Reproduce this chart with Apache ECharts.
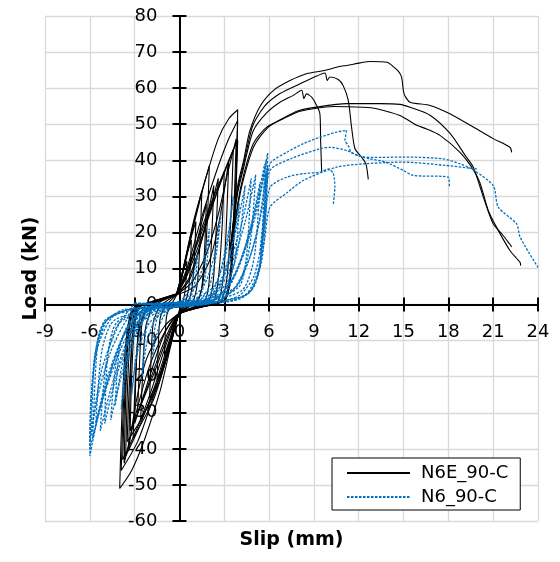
<!DOCTYPE html>
<html>
<head>
<meta charset="utf-8">
<script src="https://cdn.jsdelivr.net/npm/echarts@6/dist/echarts.min.js"></script>
<style>html,body{margin:0;padding:0;background:#fff}#c{width:560px;height:562px}</style>
</head>
<body>
<div id="c"></div>
<script>
// ---- axes ----
const xMin = -9, xMax = 24, xStep = 3;
const yMin = -60, yMax = 80, yStep = 10;
const xTitle = 'Slip (mm)';
const yTitle = 'Load (kN)';
const seriesNames = ['N6E_90-C', 'N6_90-C'];

// ---- N6E_90-C (black) cyclic loops ----
const n6eCycle01 = [[-0.2,2.5],[0.0,5],[0.2,8.5],[0.5,12],[0.45,7],[0.35,3],[0.2,0.5],[0.0,-1.5],[-0.2,-4.5],[-0.5,-8.5],[-1.0,-14],[-0.95,-8],[-0.85,-3],[-0.6,-0.5],[-0.2,2.5]];
const n6eCycle02 = [[-0.2,2.6],[0.1,6.5],[0.4,12.5],[0.8,18],[0.72,10],[0.6,4],[0.4,0.8],[0.0,-2.0],[-0.3,-6.5],[-0.8,-14],[-1.5,-21],[-1.42,-12],[-1.3,-4],[-0.9,-0.3],[-0.2,2.6]];
const n6eCycle03 = [[-0.2,2.7],[0.15,7.5],[0.6,16],[1.1,23],[1.0,13],[0.85,5],[0.6,1],[0.0,-2.3],[-0.4,-8],[-1.1,-18],[-2.0,-26],[-1.9,-15],[-1.75,-5],[-1.3,-0.5],[-0.2,2.7]];
const n6eCycle04 = [[-0.2,2.8],[0.2,9],[0.8,20],[1.5,31.5],[1.38,18],[1.2,6],[0.9,1],[0.0,-2.4],[-0.5,-9.5],[-1.4,-22],[-2.6,-32],[-2.45,-18],[-2.25,-6],[-1.7,-0.4],[-0.2,2.8]];
const n6eCycle05 = [[-0.2,2.8],[0.25,10],[1.0,24],[2.0,38.5],[1.85,22],[1.6,7],[1.2,1.2],[0.0,-2.5],[-0.6,-11],[-1.7,-26],[-3.1,-37],[-2.95,-21],[-2.7,-7],[-2.1,-0.5],[-0.2,2.8]];
const n6eCycle06 = [[-0.2,2.9],[0.4,8],[1.3,18],[2.3,29],[3.2,39],[3.9,45.5],[3.75,28],[3.5,10],[3.1,1.5],[2.5,0.3],[0.0,-2.6],[-0.6,-9],[-1.6,-22],[-2.7,-34],[-3.6,-42],[-3.5,-26],[-3.3,-9],[-2.9,-1],[-2.4,-0.2],[-0.2,2.9]];
const n6eCycle07 = [[-0.2,2.9],[0.5,10],[1.4,23],[2.4,36],[3.2,45],[3.9,51],[3.75,31],[3.5,12],[3.15,2],[2.6,0.5],[0.0,-2.6],[-0.7,-11],[-1.7,-25],[-2.8,-38],[-3.9,-46],[-3.75,-28],[-3.5,-10],[-3.1,-1.2],[-2.6,-0.2],[-0.2,2.9]];
const n6eCycle08 = [[-0.2,3.0],[0.3,10],[0.9,21],[1.7,34],[2.6,46],[3.3,51.5],[3.9,54],[3.78,33],[3.55,13],[3.2,2.3],[2.7,0.6],[0.0,-2.6],[-0.5,-10],[-1.3,-24],[-2.3,-37],[-3.2,-46],[-4.0,-51],[-3.85,-30],[-3.6,-11],[-3.2,-1.5],[-2.65,-0.3],[-0.2,3.0]];
const n6eCycle09 = [[-0.2,2.8],[0.8,6],[1.8,14],[2.6,25],[3.2,36],[3.8,46],[3.65,27],[3.4,9],[3.0,1.2],[2.4,0.2],[0.0,-2.5],[-0.9,-7],[-2.0,-17],[-2.9,-30],[-3.7,-44],[-3.6,-26],[-3.4,-8],[-3.0,-0.8],[-2.4,0],[-0.2,2.8]];
const n6eCycle10 = [[-0.2,2.7],[1.0,5],[2.0,12],[2.7,24],[3.3,40],[3.15,23],[2.95,8],[2.6,1],[2.0,0],[0.0,-2.5],[-1.0,-6],[-2.2,-15],[-2.9,-27],[-3.4,-40],[-3.3,-24],[-3.15,-8],[-2.8,-0.8],[-2.2,0],[-0.2,2.7]];
const n6eCycle11 = [[-0.2,2.6],[0.6,7],[1.5,18],[2.1,27],[2.6,35],[2.45,20],[2.25,6],[1.9,0.8],[0.0,-2.4],[-0.8,-8],[-1.8,-19],[-2.6,-28],[-3.3,-35],[-3.2,-20],[-3.0,-6],[-2.6,-0.5],[-0.2,2.6]];
const n6eCycle12 = [[-0.2,2.6],[0.5,8],[1.2,18],[1.8,28],[1.68,15],[1.5,5],[1.2,0.8],[0.0,-2.3],[-0.7,-8],[-1.7,-19],[-2.8,-30],[-2.68,-17],[-2.5,-5],[-2.0,-0.4],[-0.2,2.6]];
const n6eCycle13 = [[-0.2,2.8],[0.6,9],[1.6,20],[2.6,32],[3.6,43],[3.45,25],[3.2,8],[2.8,1],[2.2,0.1],[0.0,-2.5],[-0.8,-10],[-1.9,-24],[-2.9,-35],[-3.8,-43],[-3.65,-25],[-3.4,-8],[-3.0,-1],[-2.4,0],[-0.2,2.8]];
const n6eCycle14 = [[-0.2,2.7],[0.4,8],[1.3,19],[2.2,29],[3.0,37],[2.85,21],[2.6,7],[2.3,1],[1.7,0],[0.0,-2.4],[-0.5,-9],[-1.5,-22],[-2.6,-32],[-3.5,-38],[-3.35,-22],[-3.1,-7],[-2.7,-0.6],[-2.1,0.1],[-0.2,2.7]];
const n6eCycle15 = [[-0.2,2.6],[0.7,7],[1.5,18],[2.3,33],[2.15,18],[1.95,5],[1.6,0.5],[0.0,-2.3],[-1.0,-8],[-2.0,-20],[-3.0,-33],[-2.9,-18],[-2.7,-5],[-2.3,-0.3],[-0.2,2.6]];

// ---- N6E_90-C (black) post-peak curves ----
const n6eTail1 = [[3.4,15],[3.9,33],[4.3,40],[4.7,48],[5.4,55],[6.3,59.4],[7.4,62.1],[8.5,64],[9.7,64.9],[10.7,66],[11.2,66.3],[12.1,67],[12.75,67.4],[13.9,67.2],[14.3,66],[14.65,64.7],[14.87,63],[15.0,59],[15.1,57.8],[15.43,56.1],[16.77,55.2],[18.1,52.9],[19.67,49.2],[21.0,46],[22.12,43.6],[22.24,42.2]];
const n6eTail2 = [[3.4,15],[3.9,32],[4.3,39],[4.9,49.5],[5.7,55],[6.73,58.5],[8.07,61.2],[9.0,63],[9.74,64.2],[9.89,62.1],[10.07,63.1],[10.63,62.4],[10.96,60.7],[11.3,56.6],[11.52,49.2],[11.75,43.2],[12.19,40.9],[12.48,39],[12.64,34.7]];
const n6eTail3 = [[3.4,15],[3.9,31],[4.3,38],[4.92,48],[5.8,53],[6.73,56.1],[7.62,58],[8.18,59.4],[8.33,57.1],[8.51,58.4],[8.85,57.5],[9.18,55.2],[9.4,52.9],[9.45,45.5],[9.52,36.7]];
const n6eTail4 = [[3.4,12],[3.9,28],[4.3,36],[4.94,44.6],[5.84,49.2],[6.95,51.5],[8.0,53.5],[8.96,54.3],[10.3,54.9],[12.3,54.7],[13.2,54.3],[14.76,52.4],[15.88,49.7],[16.55,48.7],[17.44,46.9],[18.78,42.2],[19.56,38.1],[20.1,33.9],[20.67,26.1],[21.23,21.4],[22.12,15],[22.8,11.7],[22.84,10.8]];
const n6eTail5 = [[3.4,12],[3.9,27],[4.3,35],[5.0,44],[5.9,49],[7.0,51.8],[8.0,53.8],[8.96,54.6],[11.19,55.7],[13.42,55.7],[14.76,55.5],[15.43,54.7],[16.77,52.5],[18.1,47.5],[19.2,40.9],[19.67,38.1],[20.34,29.8],[21.0,22.4],[21.6,19.5],[22.1,16.8],[22.24,16]];

// ---- N6_90-C (blue) cyclic loops ----
const n6Cycle01 = [[-0.8,0.2],[0.0,0.8],[0.5,3],[0.9,7.5],[1.2,14],[1.1,8],[0.8,2.5],[0.3,0.3],[-0.5,-0.8],[-1.1,-3.5],[-1.5,-8],[-1.8,-14],[-1.7,-8],[-1.4,-2.5],[-0.8,0.2]];
const n6Cycle02 = [[-1.0,0.2],[0.2,1],[1.0,4.5],[1.6,11],[2.0,21],[1.85,12],[1.5,3.5],[0.8,0.3],[-0.5,-1],[-1.6,-4],[-2.2,-11],[-2.5,-20],[-2.35,-11],[-2.0,-3],[-1.0,0.2]];
const n6Cycle03 = [[-1.2,0.2],[0.5,1.2],[1.6,5],[2.3,13],[2.8,26],[2.5,15],[2.0,5],[1.2,0.6],[-0.6,-1.1],[-2.0,-5],[-2.8,-13],[-3.2,-25],[-2.9,-14],[-2.4,-4],[-1.2,0.2]];
const n6Cycle04 = [[-1.5,0.2],[0.8,1.3],[2.3,5],[3.1,14],[3.6,30],[3.2,18],[2.5,6],[1.5,0.8],[-0.8,-1.2],[-2.6,-5],[-3.5,-14],[-3.9,-29],[-3.5,-17],[-2.8,-5],[-1.5,0.2]];
const n6Cycle05 = [[-2.0,0.1],[1.0,1.2],[3.0,5],[3.9,15],[4.4,33],[3.8,21],[2.9,8],[1.9,1.5],[0.8,0],[-1.0,-1.2],[-3.3,-5],[-4.2,-15],[-4.6,-32],[-3.9,-20],[-2.9,-8],[-1.9,-1.5],[-1.0,0.1]];
const n6Cycle06 = [[-2.4,0.1],[1.2,1.0],[3.8,5],[4.7,16],[5.1,36],[4.4,23],[3.3,9],[2.2,2],[1.0,0.2],[-1.2,-1.0],[-4.0,-5],[-4.9,-16],[-5.3,-35],[-4.5,-22],[-3.4,-9],[-2.3,-2],[-1.2,0]];
const n6Cycle07 = [[-3.0,0.3],[0.0,0.3],[2.5,0.8],[4.0,2.5],[5.0,8],[5.6,20],[5.85,33],[5.9,42],[5.4,31],[4.5,17],[3.4,6],[2.2,1.2],[0.0,-0.5],[-3.0,-1.0],[-4.5,-3.5],[-5.5,-12],[-5.9,-25],[-6.0,-42],[-5.4,-30],[-4.4,-16],[-3.3,-5],[-2.2,-0.8],[-1.0,0.2]];
const n6Cycle08 = [[-3.0,0.3],[0.5,0.2],[3.0,0.8],[4.5,3],[5.3,10],[5.7,25],[5.8,40],[5.3,28],[4.3,14],[3.2,4],[2.0,0.5],[0.0,-0.6],[-3.2,-1.2],[-4.8,-4],[-5.6,-14],[-5.95,-28],[-6.0,-40],[-5.2,-27],[-4.0,-13],[-2.8,-3.5],[-1.8,-0.2]];
const n6Cycle09 = [[-3.0,0.3],[1.0,0.2],[3.5,1],[4.8,4],[5.5,12],[5.8,26],[5.9,38.5],[5.5,26],[4.7,13],[3.6,4],[2.4,0.6],[0.0,-0.7],[-3.5,-1.5],[-5.0,-5],[-5.7,-15],[-6.0,-38],[-5.5,-26],[-4.6,-13],[-3.4,-3.5],[-2.2,-0.3]];
const n6Cycle10 = [[-3.0,0.3],[1.5,0.3],[4.0,1.5],[5.0,5],[5.5,14],[5.8,37],[5.2,20],[4.0,6],[2.5,0.8],[0.0,-0.6],[-3.8,-1.5],[-5.2,-6],[-5.7,-16],[-5.9,-36],[-5.2,-18],[-4.0,-5],[-3.0,0.3]];
const n6Cycle11 = [[-2.0,0.2],[1.5,1],[3.0,4],[3.7,12],[4.0,28],[3.5,16],[2.7,5],[1.7,0.6],[-1.5,-1],[-3.2,-4],[-4.0,-12],[-4.3,-28],[-3.8,-16],[-3.0,-5],[-2.0,-0.3]];
const n6Cycle12 = [[-2.8,0.2],[1.5,0.8],[4.2,4],[5.0,13],[5.4,34],[4.8,22],[3.8,9],[2.6,2],[1.5,0.2],[-1.5,-1],[-4.4,-4.5],[-5.2,-13],[-5.6,-33],[-4.9,-21],[-3.8,-9],[-2.6,-2],[-1.5,-0.2]];
const n6Cycle13 = [[-2.6,0.2],[2.0,0.6],[4.6,3],[5.4,11],[5.7,39],[5.0,25],[3.9,10],[2.7,2.5],[1.4,0.3],[-2.0,-0.8],[-4.9,-4],[-5.5,-12],[-5.8,-37],[-5.0,-24],[-3.9,-10],[-2.7,-2.5],[-1.6,-0.2]];
const n6Cycle14 = [[-2.2,0.2],[1.8,0.9],[4.0,5],[4.5,14],[4.8,35],[4.2,23],[3.2,10],[2.2,2.5],[1.1,0.3],[-1.8,-1],[-4.2,-5],[-4.8,-14],[-5.0,-33],[-4.3,-21],[-3.3,-9],[-2.2,-2],[-1.2,0]];

// ---- N6_90-C (blue) post-peak curves ----
const n6Tail1 = [[5.4,15],[5.7,27],[6.06,39],[7.18,42.2],[8.29,44.6],[9.4,46.4],[10.52,47.8],[11.19,48.3],[11.08,45.5],[11.3,44.1],[11.5,42.2],[11.97,41.3],[12.75,40.4],[13.8,39.5],[14.98,37.2],[15.65,35.8],[18.0,35.3],[18.07,32.7]];
const n6Tail2 = [[5.4,14],[5.7,25],[6.06,37.2],[7.5,40.5],[9.4,43.2],[10.07,43.6],[11.19,42.7],[12.3,40.9],[13.5,40.8],[14.98,40.9],[17.66,40.4],[18.78,39],[19.56,37.6],[21.0,33],[21.34,27],[22.57,22.4],[22.8,18.7],[24.0,10.3]];
const n6Tail3 = [[5.4,12],[5.7,22],[6.06,32.5],[7.18,35.3],[8.29,36.3],[9.4,36.7],[9.96,37.6],[10.3,36.3],[10.4,32.5],[10.3,27.9]];
const n6Tail4 = [[5.4,11],[5.7,18],[6.06,27],[7.2,31],[8.29,34.4],[10.52,38.1],[12.3,39],[14.98,39.5],[17.77,38.6],[19.9,37.6]];

const n6eCurves = [n6eCycle01,n6eCycle02,n6eCycle03,n6eCycle04,n6eCycle05,n6eCycle06,n6eCycle07,n6eCycle08,n6eCycle09,n6eCycle10,n6eCycle11,n6eCycle12,n6eCycle13,n6eCycle14,n6eCycle15,n6eTail1,n6eTail2,n6eTail3,n6eTail4,n6eTail5];
const n6Curves = [n6Cycle01,n6Cycle02,n6Cycle03,n6Cycle04,n6Cycle05,n6Cycle06,n6Cycle07,n6Cycle08,n6Cycle09,n6Cycle10,n6Cycle11,n6Cycle12,n6Cycle13,n6Cycle14,n6Tail1,n6Tail2,n6Tail3,n6Tail4];

const FONT = 'DejaVu Sans';
const blackStyle = { color: '#000000', width: 1.1 };
const blueStyle = { color: '#0070C0', width: 1.3, type: [2.5, 1.5] };

const series = [];
n6eCurves.forEach(d => series.push({
  name: seriesNames[0], type: 'line', data: d, showSymbol: false, symbol: 'none',
  smooth: 0.25, lineStyle: blackStyle, itemStyle: { color: '#000' }, z: 3
}));
n6Curves.forEach(d => series.push({
  name: seriesNames[1], type: 'line', data: d, showSymbol: false, symbol: 'none',
  smooth: 0.25, lineStyle: blueStyle, itemStyle: { color: '#0070C0' }, z: 4
}));

// grid geometry; axes are moved onto the zero lines with offsets
const W = 560, H = 562;
const G = { left: 45, right: 22, top: 16, bottom: 41 };
const gw = W - G.left - G.right, gh = H - G.top - G.bottom;
const zeroFromBottom = gh * (0 - yMin) / (yMax - yMin);
const zeroFromTop = gh - zeroFromBottom;
const zeroFromLeft = gw * (0 - xMin) / (xMax - xMin);
const zeroFromRight = gw - zeroFromLeft;

const axisLineStyle = { color: '#000', width: 2 };
const chart = echarts.init(document.getElementById('c'), null, { renderer: 'canvas' });
chart.setOption({
  animation: false,
  backgroundColor: '#fff',
  grid: { left: G.left, right: G.right, top: G.top, bottom: G.bottom, containLabel: false, outerBoundsMode: 'none' },
  xAxis: [
    { type: 'value', min: xMin, max: xMax, interval: xStep, position: 'bottom', offset: -zeroFromBottom,
      name: xTitle, nameLocation: 'middle', nameGap: 226,
      nameTextStyle: { fontSize: 19, fontWeight: 'bold', fontFamily: FONT, color: '#000' },
      axisLine: { onZero: false, lineStyle: axisLineStyle },
      axisTick: { show: true, length: 7, lineStyle: axisLineStyle },
      axisLabel: { fontSize: 18, fontFamily: FONT, color: '#000', margin: 19 },
      splitLine: { show: true, lineStyle: { color: '#d9d9d9', width: 1.3 } } },
    { type: 'value', min: xMin, max: xMax, interval: xStep, position: 'top', offset: -zeroFromTop,
      axisLine: { onZero: false, lineStyle: axisLineStyle },
      axisTick: { show: true, length: 7, lineStyle: axisLineStyle },
      axisLabel: { show: false }, splitLine: { show: false } }
  ],
  yAxis: [
    { type: 'value', min: yMin, max: yMax, interval: yStep, position: 'left', offset: -zeroFromLeft,
      name: yTitle, nameLocation: 'middle', nameGap: 139, nameRotate: 90,
      nameTextStyle: { fontSize: 19, fontWeight: 'bold', fontFamily: FONT, color: '#000' },
      axisLine: { onZero: false, lineStyle: axisLineStyle },
      axisTick: { show: true, length: 7, lineStyle: axisLineStyle },
      axisLabel: { fontSize: 18, fontFamily: FONT, color: '#000', margin: 22 },
      splitLine: { show: true, lineStyle: { color: '#d9d9d9', width: 1.3 } } },
    { type: 'value', min: yMin, max: yMax, interval: yStep, position: 'right', offset: -zeroFromRight,
      axisLine: { onZero: false, lineStyle: axisLineStyle },
      axisTick: { show: true, length: 7, lineStyle: axisLineStyle },
      axisLabel: { show: false }, splitLine: { show: false } }
  ],
  legend: {
    data: seriesNames, orient: 'vertical', left: 332, top: 458,
    backgroundColor: '#fff', borderColor: '#000', borderWidth: 1, borderRadius: 0,
    padding: [6, 12, 4, 14], itemWidth: 63, itemHeight: 18, itemGap: 6,
    itemStyle: { opacity: 0 },
    textStyle: { fontSize: 18, fontFamily: FONT, color: '#000', padding: [0, 0, 0, 6] }
  },
  series: series
});
</script>
</body>
</html>
